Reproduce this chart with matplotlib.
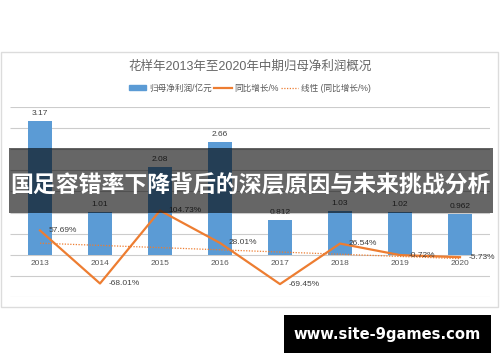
import matplotlib.pyplot as plt
from matplotlib.patches import Rectangle
from matplotlib.lines import Line2D
import numpy as np

plt.rcParams['font.family'] = ['Liberation Sans', 'Noto Sans CJK SC', 'DejaVu Sans']

# data
years = ['2013', '2014', '2015', '2016', '2017', '2018', '2019', '2020']
profit = [3.17, 1.01, 2.08, 2.66, 0.812, 1.03, 1.02, 0.962]   # 亿元
growth = [57.69, -68.01, 104.73, 28.01, -69.45, 26.54, -0.72, -5.73]  # %

title = '花样年2013年至2020年中期归母净利润概况'
banner = '国足容错率下降背后的深层原因与未来挑战分析'
site = 'www.site-9games.com'

blue = '#5b9bd5'
orange = '#ed7d31'
grid = '#cccccc'
txt = '#595959'

fig = plt.figure(figsize=(5, 3.62), dpi=100)
W, H = 500, 362

# chart frame
fig.patches.append(Rectangle((0.5 / W, 1 - 307 / H), 497 / W, 255 / H,
                             transform=fig.transFigure, fill=False,
                             edgecolor='#dcdcdc', linewidth=1.0))

ax = fig.add_axes([10 / W, 1 - 297 / H, 480 / W, 190 / H])
ax2 = ax.twinx()

ymin, ymax = -1.0, 3.5
x = np.arange(len(years))
ax.set_xlim(-0.5, len(years) - 0.5)
ax.set_ylim(ymin, ymax)
ax.hlines(np.arange(ymin, ymax + 0.01, 0.5), -0.5, len(years) - 0.5,
          color=grid, linewidth=0.8, zorder=1, snap=True)
ax.bar(x, profit, width=0.4, color=blue, zorder=2)
for s in ['top', 'right', 'left', 'bottom']:
    ax.spines[s].set_visible(False)
ax.set_xticks(x)
ax.set_xticklabels(years, fontsize=6, color=txt)
ax.tick_params(axis='x', length=0, pad=0)
zero_frac = (0 - ymin) / (ymax - ymin)
for lbl in ax.get_xticklabels():
    lbl.set_y(zero_frac - 5 / 190)
ax.set_yticks([])

for i, v in enumerate(profit):
    ax.annotate(f'{v:g}', (i, v), xytext=(0, 3), textcoords='offset points',
                ha='center', va='bottom', fontsize=6, color='#404040')

ax2.set_ylim(ymin * 100, ymax * 100)
ax2.axis('off')
ax2.plot(x, growth, color=orange, linewidth=1.6, zorder=3)
k, b = np.polyfit(x, growth, 1)
ax2.plot(x, k * x + b, color=orange, linewidth=0.9, linestyle=(0, (1, 1.2)), zorder=3)
for i, v in enumerate(growth):
    ax2.annotate(f'{v:.2f}%', (i, v), xytext=(6, 0), textcoords='offset points',
                 ha='left', va='center', fontsize=6, color='#404040',
                 annotation_clip=False)

fig.text(0.5, 1 - 67 / H, title, ha='center', va='center', fontsize=9, color='#666666')

handles = [Rectangle((0, 0), 1, 1, color=blue),
           Line2D([], [], color=orange, linewidth=1.6),
           Line2D([], [], color=orange, linewidth=0.9, linestyle=(0, (1, 1.2)))]
labels = ['归母净利润/亿元', '同比增长/%', '线性 (同比增长/%)']
fig.legend(handles, labels, loc='center', bbox_to_anchor=(0.5, 1 - 88 / H),
           ncol=3, frameon=False, fontsize=6.2, labelcolor=txt,
           handlelength=2.0, handleheight=0.5, columnspacing=0.3, handletextpad=0.3)

# overlay banner
fig.patches.append(Rectangle((9 / W, 1 - 213 / H), 484 / W, 65 / H,
                             transform=fig.transFigure, facecolor='black',
                             alpha=0.6, edgecolor='none', zorder=10))
fig.text(250.5 / W, 1 - 186 / H, banner, ha='center', va='center', fontsize=16.5,
         color='white', fontweight='bold', family=['Noto Sans CJK SC'], zorder=11)

# site box
fig.patches.append(Rectangle((284 / W, 1 - 353 / H), 207 / W, 38 / H,
                             transform=fig.transFigure, facecolor='black',
                             edgecolor='none', zorder=10))
fig.text(387 / W, 1 - 334 / H, site, ha='center', va='center', fontsize=10.6,
         color='white', fontweight='bold', family=['DejaVu Sans'], zorder=11)

fig.savefig('out.png', dpi=100)
